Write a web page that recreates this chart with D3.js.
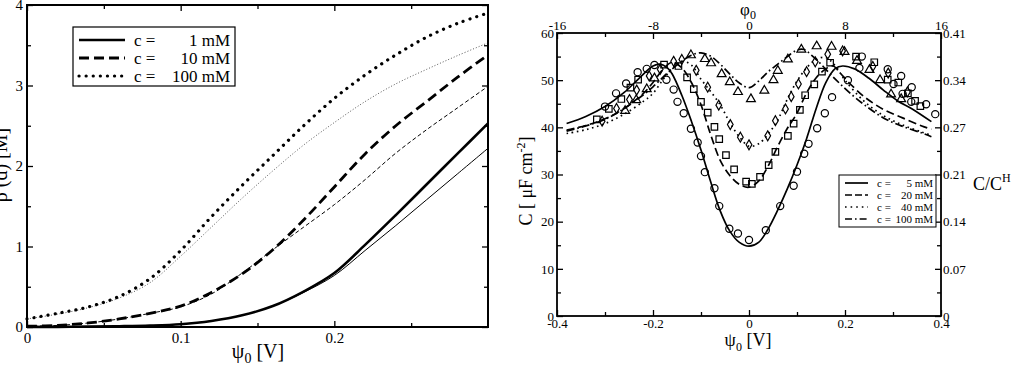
<!DOCTYPE html>
<html>
<head>
<meta charset="utf-8">
<script src="https://cdn.jsdelivr.net/npm/d3@7"></script>
<style>
  body { margin: 0; background: #fff; }
  svg { display: block; font-family: "Liberation Serif", "DejaVu Serif", serif; }
</style>
</head>
<body>
<div id="chart"></div>
<script>
// ---- left panel: rho(d) vs psi0 ----
var rhoX = [0, 0.02, 0.04, 0.06, 0.08, 0.1, 0.12, 0.14, 0.16, 0.18, 0.2, 0.22, 0.24, 0.26, 0.28, 0.3];
var rho1Thick = [0, 0.002, 0.005, 0.01, 0.018, 0.035, 0.075, 0.145, 0.26, 0.44, 0.67, 1.02, 1.39, 1.77, 2.15, 2.53];
var rho1Thin = [0, 0.002, 0.005, 0.01, 0.018, 0.035, 0.075, 0.145, 0.26, 0.43, 0.64, 0.95, 1.26, 1.58, 1.9, 2.22];
var rho10Thick = [0.01, 0.02, 0.05, 0.1, 0.17, 0.26, 0.43, 0.66, 0.96, 1.33, 1.74, 2.15, 2.5, 2.8, 3.1, 3.38];
var rho10Thin = [0.01, 0.02, 0.05, 0.1, 0.17, 0.25, 0.41, 0.67, 0.96, 1.24, 1.52, 1.83, 2.16, 2.45, 2.72, 2.99];
var rho100Thick = [0.1, 0.17, 0.25, 0.38, 0.6, 0.95, 1.37, 1.76, 2.13, 2.5, 2.84, 3.13, 3.38, 3.6, 3.77, 3.9];
var rho100Thin = [0.1, 0.16, 0.24, 0.36, 0.55, 0.88, 1.24, 1.6, 1.94, 2.26, 2.54, 2.8, 3.02, 3.2, 3.37, 3.53];
var leftLegend = ["1 mM", "10 mM", "100 mM"];

// ---- right panel: capacitance vs psi0 ----
var c5X = [-0.38, -0.34, -0.30, -0.26, -0.23, -0.20, -0.185, -0.17, -0.16, -0.14, -0.12, -0.10, -0.08, -0.06, -0.04, -0.02, 0, 0.02, 0.04, 0.06, 0.08, 0.10, 0.12, 0.14, 0.16, 0.18, 0.195, 0.22, 0.25, 0.28, 0.31, 0.34, 0.38];
var c5Y = [40.8, 42.3, 44.4, 47.4, 50.3, 53.0, 53.4, 52.6, 51.3, 46.8, 41.3, 35.2, 28.5, 22.3, 18, 15.6, 14.8, 15.6, 18.5, 22.5, 27, 32, 37.6, 44, 49.5, 52.5, 53, 52.4, 50.4, 47.9, 45.6, 43.9, 41.2];
var c20X = [-0.38, -0.34, -0.30, -0.26, -0.22, -0.20, -0.18, -0.16, -0.14, -0.12, -0.10, -0.08, -0.06, -0.04, -0.02, 0, 0.02, 0.04, 0.06, 0.08, 0.10, 0.12, 0.14, 0.16, 0.175, 0.19, 0.21, 0.24, 0.28, 0.32, 0.36, 0.38];
var c20Y = [39.4, 40.4, 41.8, 44.0, 47.2, 49.5, 52.2, 53.8, 52.6, 49.5, 44.8, 38.5, 33.0, 29.8, 27.9, 27.3, 28.6, 31.8, 36.0, 39.8, 43.0, 47.3, 50.5, 52.4, 53.0, 51.5, 49.3, 46.5, 43.8, 42.0, 40.3, 39.6];
var c40X = [-0.38, -0.34, -0.30, -0.26, -0.22, -0.20, -0.18, -0.16, -0.14, -0.12, -0.10, -0.08, -0.06, -0.04, -0.02, 0, 0.02, 0.04, 0.06, 0.08, 0.10, 0.12, 0.14, 0.16, 0.18, 0.20, 0.24, 0.28, 0.32, 0.36, 0.38];
var c40Y = [38.7, 39.5, 40.8, 42.8, 45.5, 47.2, 50.0, 52.5, 54.0, 53.2, 50.2, 47.6, 44.8, 41.0, 38.0, 36.0, 36.5, 38.6, 41.6, 46.0, 49.8, 52.6, 54.4, 54.8, 53.0, 50.0, 45.5, 42.5, 40.5, 39.0, 38.3];
var c100X = [-0.38, -0.34, -0.30, -0.26, -0.22, -0.20, -0.17, -0.14, -0.12, -0.10, -0.08, -0.06, -0.04, -0.02, 0, 0.02, 0.04, 0.06, 0.08, 0.10, 0.115, 0.13, 0.15, 0.17, 0.19, 0.21, 0.24, 0.28, 0.32, 0.36, 0.38];
var c100Y = [39.2, 40.3, 41.7, 44.0, 46.9, 48.6, 51.5, 54.0, 55.3, 55.8, 55.1, 53.4, 51.3, 49.4, 48.4, 49.8, 51.8, 53.4, 55.0, 56.4, 56.5, 55.3, 53.4, 51.2, 49.2, 47.3, 44.8, 42.0, 40.2, 38.8, 38.0];

// measured points
var circX = [-0.30, -0.277, -0.256, -0.232, -0.213, -0.197, -0.172, -0.157, -0.149, -0.136, -0.121, -0.107, -0.100, -0.092, -0.072, -0.062, -0.041, -0.023, 0.0, 0.035, 0.065, 0.093, 0.100, 0.115, 0.124, 0.142, 0.158, 0.173, 0.206, 0.230, 0.235, 0.289, 0.301, 0.317, 0.320, 0.339, 0.338, 0.369, 0.388];
var circY = [44.4, 47.2, 49.3, 51.7, 52.4, 53.2, 50.1, 48.0, 45.4, 43.0, 39.7, 36.8, 33.9, 30.5, 27.1, 23.3, 18.5, 17.5, 16.1, 18.2, 23.3, 27.6, 30.6, 34.4, 36.5, 39.8, 43.0, 46.4, 50.0, 52.6, 55.0, 52.3, 49.2, 50.9, 47.1, 48.5, 45.4, 44.9, 42.8];
var sqX = [-0.317, -0.292, -0.266, -0.247, -0.231, -0.177, -0.147, -0.129, -0.115, -0.100, -0.086, -0.072, -0.062, -0.048, -0.031, -0.006, 0.006, 0.023, 0.041, 0.055, 0.081, 0.093, 0.106, 0.117, 0.136, 0.152, 0.169, 0.223, 0.261, 0.289, 0.311, 0.331, 0.346, 0.357];
var sqY = [41.7, 43.9, 46.0, 48.4, 50.1, 53.3, 53.0, 50.6, 48.1, 45.4, 43.1, 40.1, 37.5, 34.1, 31.1, 28.5, 28.0, 29.5, 32.0, 34.8, 38.2, 40.8, 43.7, 46.8, 49.1, 51.8, 53.7, 55.0, 53.8, 50.1, 49.5, 47.2, 45.6, 44.5];
var diaX = [-0.306, -0.276, -0.249, -0.234, -0.208, -0.185, -0.157, -0.140, -0.110, -0.086, -0.063, -0.039, -0.018, 0.0, 0.039, 0.055, 0.076, 0.088, 0.103, 0.120, 0.138, 0.164, 0.195, 0.258, 0.290, 0.330];
var diaY = [41.3, 44.0, 45.9, 47.9, 50.9, 52.3, 54.0, 54.4, 52.1, 48.5, 44.7, 40.6, 37.9, 36.3, 38.2, 41.4, 43.9, 46.5, 49.2, 51.8, 53.9, 55.5, 56.2, 52.9, 51.5, 47.5];
var triX = [-0.258, -0.235, -0.213, -0.197, -0.121, -0.092, -0.079, -0.057, -0.040, -0.023, 0.004, 0.032, 0.051, 0.060, 0.081, 0.109, 0.141, 0.172, 0.199, 0.225, 0.251, 0.273, 0.296, 0.317];
var triY = [43.5, 45.8, 48.1, 50.4, 55.3, 54.5, 53.6, 51.3, 49.6, 47.5, 46.0, 47.8, 50.0, 52.0, 54.4, 56.5, 57.2, 57.1, 56.0, 54.1, 52.2, 50.0, 47.0, 46.0];

var ratioLabels = ["0", "0.07", "0.14", "0.21", "0.27", "0.34", "0.41"];
var rightLegend = ["5 mM", "20 mM", "40 mM", "100 mM"];

var svg = d3.select("#chart").append("svg")
  .attr("width", 1014)
  .attr("height", 368);
svg.append("rect").attr("width", 1014).attr("height", 368).attr("fill", "#fff");

function zip(xs, ys) { return xs.map(function(x, i) { return [x, ys[i]]; }); }

// major (labelled) + minor ticks, all pointing inward
function drawAxis(g, axisFn, scale, major, minor, pad, fmt, fs) {
  var a = g.append("g").call(axisFn(scale).tickValues(major).tickSize(-6).tickPadding(pad).tickFormat(fmt));
  var b = g.append("g").call(axisFn(scale).tickValues(minor).tickSize(-4).tickFormat(""));
  a.select(".domain").remove();
  b.select(".domain").remove();
  a.attr("font-size", fs).attr("font-family", "Liberation Serif");
  g.selectAll("line").attr("stroke", "#000").attr("stroke-width", 1.3);
  return a;
}

// ================= LEFT PANEL =================
var xL = d3.scaleLinear().domain([0, 0.3]).range([27, 488]);
var yL = d3.scaleLinear().domain([0, 4]).range([327, 5]);
var left = svg.append("g");

var lineL = d3.line().x(function(d) { return xL(d[0]); }).y(function(d) { return yL(d[1]); }).curve(d3.curveCatmullRom);

var leftSeries = [
  { y: rho1Thin, w: 1, dash: null, col: "#000" },
  { y: rho10Thin, w: 1, dash: "4,2.5", col: "#000" },
  { y: rho100Thin, w: 0.9, dash: "1,2", col: "#444" },
  { y: rho1Thick, w: 2.6, dash: null, col: "#000" },
  { y: rho10Thick, w: 2.8, dash: "10,5", col: "#000" },
  { y: rho100Thick, w: 3.2, dash: "0.1,7", col: "#000" }
];
leftSeries.forEach(function(s) {
  left.append("path")
    .attr("d", lineL(zip(rhoX, s.y)))
    .attr("fill", "none")
    .attr("stroke", s.col)
    .attr("stroke-width", s.w)
    .attr("stroke-dasharray", s.dash)
    .attr("stroke-linecap", s.dash === "0.1,7" ? "round" : "butt");
});

var axL = left.append("g");
drawAxis(axL.append("g").attr("transform", "translate(0,327)"), d3.axisBottom, xL, [0, 0.1, 0.2], [0.05, 0.15, 0.25], 5, function(d) { return d; }, 15);
drawAxis(axL.append("g").attr("transform", "translate(0,5)"), d3.axisTop, xL, [0, 0.1, 0.2], [0.05, 0.15, 0.25], 5, "", 15);
drawAxis(axL.append("g").attr("transform", "translate(27,0)"), d3.axisLeft, yL, [0, 1, 2, 3, 4], [0.5, 1.5, 2.5, 3.5], 4, function(d) { return d; }, 15);
drawAxis(axL.append("g").attr("transform", "translate(488,0)"), d3.axisRight, yL, [0, 1, 2, 3, 4], [0.5, 1.5, 2.5, 3.5], 4, "", 15);

left.append("rect").attr("x", 27).attr("y", 5).attr("width", 461).attr("height", 322)
  .attr("fill", "none").attr("stroke", "#000").attr("stroke-width", 2);

// axis titles
var xtL = left.append("text").attr("x", 258).attr("y", 358).attr("text-anchor", "middle").attr("font-size", 20);
xtL.append("tspan").text("ψ");
xtL.append("tspan").attr("dy", 5).attr("font-size", 14).text("0");
xtL.append("tspan").attr("dy", -5).text("  [V]");
left.append("text").attr("transform", "translate(7,165) rotate(-90)").attr("text-anchor", "middle")
  .attr("font-size", 20).text("ρ (d) [M]");

// legend
var lgL = left.append("g");
lgL.append("rect").attr("x", 73).attr("y", 27).attr("width", 162).attr("height", 59)
  .attr("fill", "#fff").attr("stroke", "#000").attr("stroke-width", 1.2);
var lgStyles = [{ w: 2.6, dash: null }, { w: 2.8, dash: "10,5" }, { w: 3.2, dash: "0.1,7" }];
leftLegend.forEach(function(t, i) {
  var yy = 40 + i * 18;
  lgL.append("line").attr("x1", 79).attr("x2", 125).attr("y1", yy).attr("y2", yy)
    .attr("stroke", "#000").attr("stroke-width", lgStyles[i].w)
    .attr("stroke-dasharray", lgStyles[i].dash)
    .attr("stroke-linecap", i === 2 ? "round" : "butt");
  lgL.append("text").attr("x", 134).attr("y", yy + 6).attr("font-size", 17).text("c =");
  lgL.append("text").attr("x", 230).attr("y", yy + 6).attr("font-size", 17).attr("text-anchor", "end").text(t);
});

// ================= RIGHT PANEL =================
var xR = d3.scaleLinear().domain([-0.4, 0.4]).range([557, 941]);
var yR = d3.scaleLinear().domain([0, 60]).range([316, 33]);
var phi = d3.scaleLinear().domain([-16, 16]).range([557, 941]);
var right = svg.append("g");

var lineR = d3.line().x(function(d) { return xR(d[0]); }).y(function(d) { return yR(d[1]); }).curve(d3.curveCatmullRom);
var rightSeries = [
  { x: c5X, y: c5Y, dash: null },
  { x: c20X, y: c20Y, dash: "8,4" },
  { x: c40X, y: c40Y, dash: "1.6,3.6" },
  { x: c100X, y: c100Y, dash: "8,3,1.6,3" }
];
rightSeries.forEach(function(s) {
  right.append("path")
    .attr("d", lineR(zip(s.x, s.y)))
    .attr("fill", "none")
    .attr("stroke", "#000")
    .attr("stroke-width", 1.7)
    .attr("stroke-dasharray", s.dash);
});

// markers
var mk = right.append("g").attr("fill", "none").attr("stroke", "#000").attr("stroke-width", 1.2);
mk.selectAll(".c").data(zip(circX, circY)).enter().append("circle")
  .attr("cx", function(d) { return xR(d[0]); }).attr("cy", function(d) { return yR(d[1]); }).attr("r", 3.6);
function drawSym(data, type, size) {
  mk.selectAll(null).data(data).enter().append("path")
    .attr("transform", function(d) { return "translate(" + xR(d[0]) + "," + yR(d[1]) + ")"; })
    .attr("d", d3.symbol().type(type).size(size));
}
drawSym(zip(sqX, sqY), d3.symbolSquare, 42);
drawSym(zip(diaX, diaY), d3.symbolDiamond, 28);
drawSym(zip(triX, triY), d3.symbolTriangle, 34);

var axR = right.append("g");
drawAxis(axR.append("g").attr("transform", "translate(0,316)"), d3.axisBottom, xR, [-0.4, -0.2, 0, 0.2, 0.4], [-0.3, -0.1, 0.1, 0.3], 3, function(d) { return d; }, 13);
drawAxis(axR.append("g").attr("transform", "translate(0,33)"), d3.axisTop, phi, [-16, -8, 0, 8, 16], [-12, -4, 4, 12], 3, function(d) { return d; }, 13);
drawAxis(axR.append("g").attr("transform", "translate(557,0)"), d3.axisLeft, yR, [0, 10, 20, 30, 40, 50, 60], [5, 15, 25, 35, 45, 55], 3, function(d) { return d; }, 13);
drawAxis(axR.append("g").attr("transform", "translate(941,0)"), d3.axisRight, yR, [0, 10, 20, 30, 40, 50, 60], [5, 15, 25, 35, 45, 55], 2, function(d, i) { return ratioLabels[i]; }, 13);

right.append("rect").attr("x", 557).attr("y", 33).attr("width", 384).attr("height", 283)
  .attr("fill", "none").attr("stroke", "#000").attr("stroke-width", 1.8);

// titles
var xtR = right.append("text").attr("x", 748).attr("y", 346).attr("text-anchor", "middle").attr("font-size", 18);
xtR.append("tspan").text("ψ");
xtR.append("tspan").attr("dy", 5).attr("font-size", 12).text("0");
xtR.append("tspan").attr("dy", -5).text(" [V]");
var ttR = right.append("text").attr("x", 748).attr("y", 15).attr("text-anchor", "middle").attr("font-size", 17);
ttR.append("tspan").text("φ");
ttR.append("tspan").attr("dy", 4).attr("font-size", 12).text("0");
var ytR = right.append("text").attr("transform", "translate(532,181) rotate(-90)").attr("text-anchor", "middle").attr("font-size", 18);
ytR.append("tspan").text("C [ μF cm");
ytR.append("tspan").attr("dy", -7).attr("font-size", 12).text("-2");
ytR.append("tspan").attr("dy", 7).text("]");
var rtR = right.append("text").attr("x", 973).attr("y", 190).attr("font-size", 18);
rtR.append("tspan").text("C/C");
rtR.append("tspan").attr("dy", -8).attr("font-size", 12).text("H");

// legend
var lgR = right.append("g");
lgR.append("rect").attr("x", 839).attr("y", 175).attr("width", 97).attr("height", 52)
  .attr("fill", "#fff").attr("stroke", "#000").attr("stroke-width", 1);
var rDash = [null, "7,3", "1.6,4", "7,3,1.6,3"];
rightLegend.forEach(function(t, i) {
  var yy = 183 + i * 12;
  lgR.append("line").attr("x1", 845).attr("x2", 868).attr("y1", yy).attr("y2", yy)
    .attr("stroke", "#000").attr("stroke-width", 1.7).attr("stroke-dasharray", rDash[i]);
  lgR.append("text").attr("x", 877).attr("y", yy + 4).attr("font-size", 11).text("c =");
  lgR.append("text").attr("x", 933).attr("y", yy + 4).attr("font-size", 11).attr("text-anchor", "end").text(t);
});

// all text plain black
svg.selectAll("text").attr("fill", "#000");
</script>
</body>
</html>
